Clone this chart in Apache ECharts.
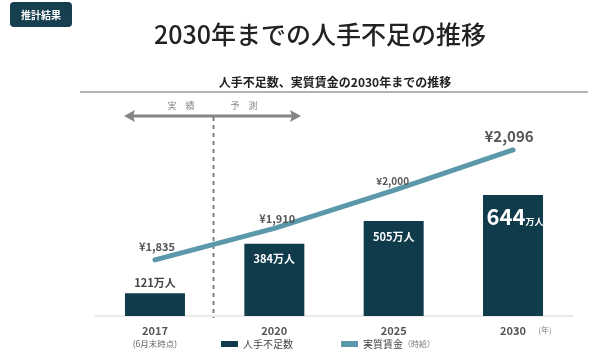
<!DOCTYPE html>
<html><head><meta charset="utf-8">
<script src="https://cdn.jsdelivr.net/npm/echarts@6/dist/echarts.min.js"></script>
<style>html,body{margin:0;padding:0;background:#fff}#c{width:611px;height:353px}</style>
</head><body><div id="c"></div>
<script>
const categories = ['2017', '2020', '2025', '2030'];
const categorySub = ['(6月末時点)', '', '', ''];
const shortage = [121, 384, 505, 644];      // 万人
const wage = [1835, 1910, 2000, 2096];      // 円（時給）
const seriesNames = ['人手不足数', '実質賃金'];
const FONT = '"Noto Sans CJK JP","Noto Sans",sans-serif';
const BAR = '#0f3b4b', LINE = '#5b98a9', GRAY = '#555';

const chart = echarts.init(document.getElementById('c'));

const barData = shortage.map((v, i) => {
  const d = { value: v };
  if (i === 0) {
    d.label = { position: 'top', distance: 5, color: '#444', fontSize: 11, fontWeight: 'bold',
      formatter: p => p.value + '万人' };
  } else if (i === 3) {
    d.label = { position: 'insideTop', distance: 7, color: '#fff', offset: [2, 0],
      formatter: p => '{big|' + p.value + '}{sm|万人}',
      rich: { big: { fontSize: 22, fontWeight: 'bold', color: '#fff', fontFamily: FONT, verticalAlign: 'bottom', lineHeight: 26 },
              sm: { fontSize: 9, fontWeight: 'bold', color: '#fff', fontFamily: FONT, verticalAlign: 'bottom', padding: [0, 0, 2, 0] } } };
  } else {
    d.label = { position: 'insideTop', distance: 10, color: '#fff', fontSize: 11, fontWeight: 'bold',
      formatter: p => p.value + '万人' };
  }
  return d;
});

const wageLabelStyle = [
  { fontSize: 11, offset: [2, -2] },
  { fontSize: 11, offset: [3, 2] },
  { fontSize: 10, offset: [-1, 2] },
  { fontSize: 15, offset: [-4, 0] }
];
const lineData = wage.map((v, i) => ({
  value: v,
  label: { show: true, position: 'top', distance: 6, color: GRAY, fontWeight: 'bold', fontFamily: FONT,
    fontSize: wageLabelStyle[i].fontSize, offset: wageLabelStyle[i].offset,
    formatter: p => '¥' + p.value.toLocaleString('en-US') }
}));

chart.setOption({
  backgroundColor: '#fff',
  textStyle: { fontFamily: FONT },
  animation: false,
  grid: { left: 95.3, right: 38.3, top: 96, bottom: 37 },
  xAxis: {
    type: 'category', data: categories,
    axisLine: { lineStyle: { color: '#e2e2e2', width: 1.5 } },
    axisTick: { show: false },
    axisLabel: {
      margin: 8, color: GRAY, fontFamily: FONT, lineHeight: 14,
      formatter: (v, i) => categorySub[i] ? '{y|' + v + '}\n{s|' + categorySub[i] + '}' : '{y|' + v + '}',
      rich: { y: { fontSize: 11, fontWeight: 'bold', color: '#555', lineHeight: 14 },
              s: { fontSize: 8.5, color: '#666', lineHeight: 12 } }
    }
  },
  yAxis: [
    { type: 'value', min: 0, max: 1170, show: false },
    { type: 'value', min: 1702, max: 2224, show: false }
  ],
  legend: {
    left: 221, top: 339, padding: 0, itemGap: 48, itemWidth: 17, itemHeight: 6,
    textStyle: { color: '#444', fontSize: 10, fontFamily: FONT,
      rich: { s: { fontSize: 8, color: '#777', fontFamily: FONT } } },
    formatter: n => n === seriesNames[1] ? n + '{s|（時給）}' : n,
    data: [
      { name: seriesNames[0], icon: 'rect' },
      { name: seriesNames[1], icon: 'rect', itemStyle: { color: LINE } }
    ]
  },
  series: [
    { name: seriesNames[0], type: 'bar', data: barData, barWidth: 60, itemStyle: { color: BAR },
      label: { show: true, fontFamily: FONT }, z: 2 },
    { name: seriesNames[1], type: 'line', yAxisIndex: 1, data: lineData, showSymbol: true, symbol: 'circle', symbolSize: 0.01,
      lineStyle: { color: LINE, width: 5, cap: 'round' }, itemStyle: { color: LINE }, z: 3 }
  ],
  graphic: [
    { type: 'rect', shape: { x: 10, y: 2, width: 62, height: 25, r: 4 }, style: { fill: '#163f4f' } },
    { type: 'text', x: 41, y: 15, style: { text: '推計結果', fill: '#fff', font: 'bold 10px ' + FONT, textAlign: 'center', textVerticalAlign: 'middle' } },
    { type: 'text', x: 320, y: 34, style: { text: '2030年までの人手不足の推移', fill: '#222', font: '500 25px ' + FONT, textAlign: 'center', textVerticalAlign: 'middle' } },
    { type: 'text', x: 335, y: 82, style: { text: '人手不足数、実質賃金の2030年までの推移', fill: '#222', font: 'bold 12px ' + FONT, textAlign: 'center', textVerticalAlign: 'middle' } },
    { type: 'line', shape: { x1: 80, y1: 92, x2: 588, y2: 92 }, style: { stroke: '#9a9a9a', lineWidth: 1.5 } },
    { type: 'line', shape: { x1: 132, y1: 116, x2: 293, y2: 116 }, style: { stroke: '#858585', lineWidth: 3 } },
    { type: 'polygon', shape: { points: [[124, 116], [135, 110], [133, 116], [135, 122]] }, style: { fill: '#858585' } },
    { type: 'polygon', shape: { points: [[301, 116], [290, 110], [292, 116], [290, 122]] }, style: { fill: '#858585' } },
    { type: 'text', x: 181, y: 106, style: { text: '実　績', fill: '#888', font: '9px ' + FONT, textAlign: 'center', textVerticalAlign: 'middle' } },
    { type: 'text', x: 244, y: 106, style: { text: '予　測', fill: '#888', font: '9px ' + FONT, textAlign: 'center', textVerticalAlign: 'middle' } },
    { type: 'line', shape: { x1: 213.5, y1: 117, x2: 213.5, y2: 318 }, style: { stroke: '#707080', lineWidth: 1.8, lineDash: [4, 4] } },
    { type: 'text', x: 545, y: 330, style: { text: '(年)', fill: '#888', font: '8px ' + FONT, textAlign: 'center', textVerticalAlign: 'middle' } }
  ]
});
</script></body></html>
